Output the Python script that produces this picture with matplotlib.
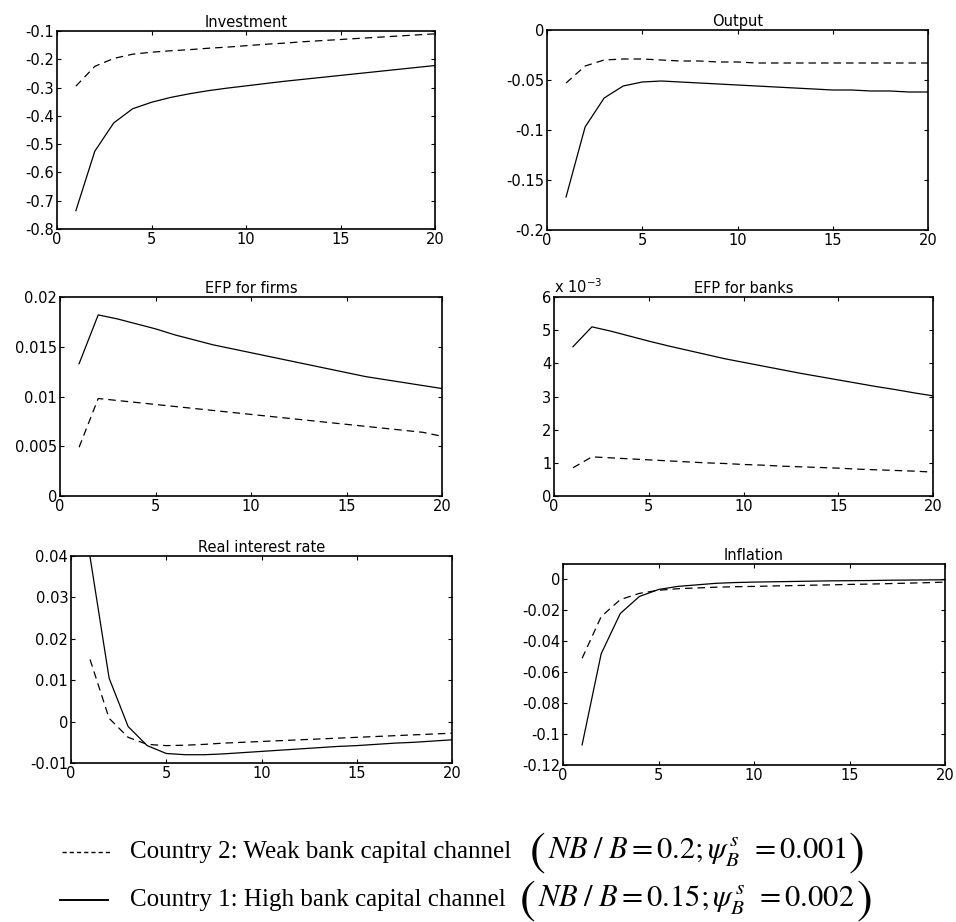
import matplotlib
matplotlib.use("Agg")
import matplotlib.pyplot as plt
import numpy as np

periods = list(range(1, 21))

inv_c1 = [-0.735, -0.525, -0.425, -0.375, -0.352, -0.335, -0.322, -0.311, -0.302, -0.294,
          -0.286, -0.278, -0.271, -0.264, -0.257, -0.250, -0.243, -0.236, -0.229, -0.222]
inv_c2 = [-0.295, -0.225, -0.197, -0.182, -0.175, -0.170, -0.166, -0.161, -0.157, -0.152,
          -0.147, -0.143, -0.138, -0.134, -0.130, -0.126, -0.122, -0.118, -0.114, -0.110]

out_c1 = [-0.167, -0.097, -0.068, -0.056, -0.052, -0.051, -0.052, -0.053, -0.054, -0.055,
          -0.056, -0.057, -0.058, -0.059, -0.060, -0.060, -0.061, -0.061, -0.062, -0.062]
out_c2 = [-0.053, -0.036, -0.030, -0.029, -0.029, -0.030, -0.031, -0.031, -0.032, -0.032,
          -0.033, -0.033, -0.033, -0.033, -0.033, -0.033, -0.033, -0.033, -0.033, -0.033]

efpf_c1 = [0.0133, 0.0182, 0.0178, 0.0173, 0.0168, 0.0162, 0.0157, 0.0152, 0.0148, 0.0144,
           0.0140, 0.0136, 0.0132, 0.0128, 0.0124, 0.0120, 0.0117, 0.0114, 0.0111, 0.0108]
efpf_c2 = [0.0049, 0.0098, 0.0096, 0.0094, 0.0092, 0.0090, 0.0088, 0.0086, 0.0084, 0.0082,
           0.0080, 0.0078, 0.0076, 0.0074, 0.0072, 0.0070, 0.0068, 0.0066, 0.0064, 0.0060]

efpb_c1 = [4.50e-3, 5.10e-3, 4.97e-3, 4.82e-3, 4.67e-3, 4.53e-3, 4.40e-3, 4.27e-3, 4.14e-3, 4.03e-3,
           3.92e-3, 3.81e-3, 3.70e-3, 3.60e-3, 3.50e-3, 3.40e-3, 3.30e-3, 3.21e-3, 3.11e-3, 3.02e-3]
efpb_c2 = [0.85e-3, 1.18e-3, 1.15e-3, 1.12e-3, 1.09e-3, 1.06e-3, 1.03e-3, 1.00e-3, 0.98e-3, 0.95e-3,
           0.93e-3, 0.90e-3, 0.88e-3, 0.86e-3, 0.84e-3, 0.81e-3, 0.79e-3, 0.77e-3, 0.75e-3, 0.72e-3]

rir_c1 = [0.0398, 0.0105, -0.0012, -0.0058, -0.0077, -0.0080, -0.0080, -0.0078, -0.0075, -0.0072,
          -0.0069, -0.0066, -0.0063, -0.0060, -0.0058, -0.0055, -0.0052, -0.0050, -0.0047, -0.0044]
rir_c2 = [0.0150, 0.0008, -0.0038, -0.0055, -0.0058, -0.0057, -0.0055, -0.0052, -0.0050, -0.0048,
          -0.0046, -0.0044, -0.0042, -0.0040, -0.0038, -0.0036, -0.0034, -0.0032, -0.0030, -0.0028]

inf_c1 = [-0.107, -0.048, -0.022, -0.011, -0.0065, -0.0045, -0.0035, -0.0025, -0.0020, -0.0017,
          -0.0015, -0.0013, -0.0011, -0.0009, -0.0008, -0.0007, -0.0005, -0.0004, -0.0003, -0.0002]
inf_c2 = [-0.051, -0.024, -0.013, -0.009, -0.007, -0.006, -0.0055, -0.0050, -0.0047, -0.0045,
          -0.0042, -0.0040, -0.0037, -0.0035, -0.0032, -0.0030, -0.0027, -0.0024, -0.0021, -0.0017]

titles = ["Investment", "Output", "EFP for firms", "EFP for banks", "Real interest rate", "Inflation"]
c1_series = [inv_c1, out_c1, efpf_c1, efpb_c1, rir_c1, inf_c1]
c2_series = [inv_c2, out_c2, efpf_c2, efpb_c2, rir_c2, inf_c2]

yticks = [
    [-0.8, -0.7, -0.6, -0.5, -0.4, -0.3, -0.2, -0.1],
    [-0.2, -0.15, -0.1, -0.05, 0],
    [0, 0.005, 0.01, 0.015, 0.02],
    [0, 1e-3, 2e-3, 3e-3, 4e-3, 5e-3, 6e-3],
    [-0.01, 0, 0.01, 0.02, 0.03, 0.04],
    [-0.12, -0.1, -0.08, -0.06, -0.04, -0.02, 0],
]
yticklabels = [
    ["-0.8", "-0.7", "-0.6", "-0.5", "-0.4", "-0.3", "-0.2", "-0.1"],
    ["-0.2", "-0.15", "-0.1", "-0.05", "0"],
    ["0", "0.005", "0.01", "0.015", "0.02"],
    ["0", "1", "2", "3", "4", "5", "6"],
    ["-0.01", "0", "0.01", "0.02", "0.03", "0.04"],
    ["-0.12", "-0.1", "-0.08", "-0.06", "-0.04", "-0.02", "0"],
]
ylims = [(-0.8, -0.1), (-0.2, 0), (0, 0.02), (0, 6e-3), (-0.01, 0.04), (-0.12, 0.01)]
xticks = [0, 5, 10, 15, 20]

legend_c2 = "Country 2: Weak bank capital channel"
legend_c2_math = r"$NB\;/\;B=0.2;\psi_B^{\,s}\;\,=0.001$"
legend_c1 = "Country 1: High bank capital channel"
legend_c1_math = r"$NB\;/\;B=0.15;\psi_B^{\,s}\;\,=0.002$"

W, H = 956, 922
# axes boxes in pixels: left, top, right, bottom
boxes = [
    (57, 31, 435, 229),
    (547, 30, 928, 230),
    (60, 297, 442, 496),
    (554, 297, 933, 496),
    (71, 556, 452, 763),
    (563, 564, 945, 765),
]

plt.rcParams['mathtext.fontset'] = 'stix'
fig = plt.figure(figsize=(W / 100, H / 100), dpi=100)
fig.patch.set_facecolor("white")

sans = ["DejaVu Sans"]
FS = 10.5
for i, (l, t, r, b) in enumerate(boxes):
    ax = fig.add_axes([l / W, 1 - b / H, (r - l) / W, (b - t) / H])
    ax.plot(periods, c2_series[i], color="black", lw=0.9, ls=(0, (6, 4)))
    ax.plot(periods, c1_series[i], color="black", lw=0.9, ls="-")
    ax.set_xlim(0, 20)
    ax.set_ylim(*ylims[i])
    ax.set_xticks(xticks)
    ax.set_xticklabels([str(v) for v in xticks], family=sans, fontsize=FS)
    ax.set_yticks(yticks[i])
    ax.set_yticklabels(yticklabels[i], family=sans, fontsize=FS)
    ax.tick_params(direction="in", length=3, width=0.8, top=True, right=True, pad=2)
    for s in ax.spines.values():
        s.set_linewidth(1.2)
    ax.set_title(titles[i], family=sans, fontsize=FS, pad=3)
    if i == 3:
        ax.text(0.0, 1.005, r"x 10$^{-3}$", transform=ax.transAxes, family=sans,
                fontsize=FS, ha="left", va="bottom", math_fontfamily="dejavusans")

# legend at bottom
serif = ["Liberation Serif", "DejaVu Serif"]
y1 = 852
y2 = 900
fig.add_artist(plt.Line2D([62 / W, 110 / W], [1 - y1 / H, 1 - y1 / H], color="black", lw=1.0,
                          ls=(0, (3, 2.2)), transform=fig.transFigure))
fig.add_artist(plt.Line2D([60 / W, 108 / W], [1 - y2 / H, 1 - y2 / H], color="black", lw=1.4,
                          ls="-", transform=fig.transFigure))

renderer = fig.canvas.get_renderer()


def legend_line(ypix, label, math, paren_x):
    fig.text(130 / W, 1 - ypix / H, label, family=serif, fontsize=18, va="center", ha="left")
    p1 = fig.text(paren_x / W, 1 - (ypix + 1) / H, "(", fontsize=34, va="center", ha="left",
                  family=["STIXGeneral", "DejaVu Serif"], fontweight="light")
    bb = p1.get_window_extent(renderer)
    m = fig.text((bb.x1 + 2) / W, 1 - ypix / H, math, fontsize=22, va="center", ha="left")
    bb2 = m.get_window_extent(renderer)
    fig.text((bb2.x1 + 2) / W, 1 - (ypix + 1) / H, ")", fontsize=34, va="center", ha="left",
             family=["STIXGeneral", "DejaVu Serif"], fontweight="light")


legend_line(y1, legend_c2, legend_c2_math, 530)
legend_line(y2, legend_c1, legend_c1_math, 520)

fig.savefig("out.png", dpi=100)
